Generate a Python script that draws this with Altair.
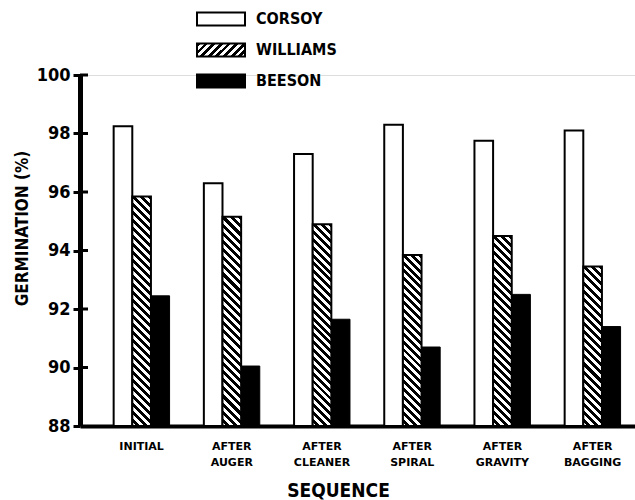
import altair as alt
import pandas as pd

# ---- data ----
sequence = ["INITIAL", "AFTER AUGER", "AFTER CLEANER", "AFTER SPIRAL",
            "AFTER GRAVITY", "AFTER BAGGING"]
series = ["CORSOY", "WILLIAMS", "BEESON"]
corsoy = [98.25, 96.3, 97.3, 98.3, 97.75, 98.1]
williams = [95.85, 95.15, 94.9, 93.85, 94.5, 93.45]
beeson = [92.45, 90.05, 91.65, 90.7, 92.5, 91.4]
y_ticks = [88, 90, 92, 94, 96, 98, 100]

rows = []
for s, vals in zip(series, [corsoy, williams, beeson]):
    for q, v in zip(sequence, vals):
        rows.append({"sequence": q, "series": s, "value": v})
df = pd.DataFrame(rows)
legend_df = pd.DataFrame({"series": series})
ticks_df = pd.DataFrame({"t": y_ticks[1:]})

# ---- layout ----
W, H = 555, 351
Y0, Y1 = 88, 100
PAD_IN, PAD_OUT, ALIGN = 0.38, 0.2665, 0.70
step = W / (len(sequence) - PAD_IN + 2 * PAD_OUT)
bar_w = step * (1 - PAD_IN) / 3
px_unit = H / (Y1 - Y0)

NARROW = "Liberation Sans Narrow, DejaVu Sans Condensed, Roboto Condensed, Liberation Sans, sans-serif"
WIDE = "DejaVu Sans, Verdana, sans-serif"


def stripes(n, frac=0.5):
    st = []
    for k in range(n):
        a = k / n
        b = (k + frac) / n
        c = (k + 1) / n
        st += [{"offset": a, "color": "black"}, {"offset": b, "color": "black"},
               {"offset": b, "color": "white"}, {"offset": c, "color": "white"}]
    return st


def hatch_back(w, h, period=8.0):
    # "\" diagonal stripes inside a w x h box (objectBoundingBox units)
    r = w / h
    L = (1 + r) / (1 + r * r)
    n = max(1, round((w + h) / period))
    return {"gradient": "linear", "x1": 1, "y1": 0, "x2": 1 - r * L, "y2": L,
            "stops": stripes(n)}


def hatch_fwd(w, h, period=8.0):
    # "/" diagonal stripes
    s = h / w
    L = (1 + s) / (1 + s * s)
    n = max(1, round((w + h) / period))
    return {"gradient": "linear", "x1": 0, "y1": 0, "x2": L, "y2": s * L,
            "stops": stripes(n)}


x_enc = alt.X(
    "sequence:N", sort=sequence,
    scale=alt.Scale(domain=sequence, paddingInner=PAD_IN, paddingOuter=PAD_OUT, align=ALIGN),
    axis=alt.Axis(
        title="SEQUENCE", labelAngle=0, labelExpr="split(datum.label, ' ')",
        labelFont=WIDE, labelFontWeight="bold", labelFontSize=11, labelColor="black",
        labelLineHeight=16, labelPadding=14, ticks=False, tickSize=0,
        domainColor="black", domainWidth=4,
        titleFont=NARROW, titleFontSize=19, titleFontWeight="bold", titleColor="black",
        titleX=258, titleY=70, titleBaseline="alphabetic", titleAlign="center",
        grid=False,
    ),
)
xoff_enc = alt.XOffset("series:N", scale=alt.Scale(domain=series, paddingInner=0, paddingOuter=0))
y_scale = alt.Scale(domain=[Y0, Y1], nice=False, zero=False)
y_axis = alt.Axis(
    title="GERMINATION (%)", values=y_ticks, format="d",
    labelFont=NARROW, labelFontWeight="bold", labelFontSize=18, labelColor="black",
    labelPadding=3, tickSize=7, tickWidth=3, tickColor="black",
    domainColor="black", domainWidth=5, grid=False,
    titleFont=NARROW, titleFontSize=17, titleFontWeight="bold", titleColor="black",
    titleX=-58, titleY=153, titleAngle=270, titleAlign="center", titleBaseline="middle",
)
y_enc = alt.Y("value:Q", scale=y_scale, axis=y_axis)
y2_enc = alt.Y2(datum=Y0)

base = alt.Chart(df)

corsoy_layer = base.transform_filter(alt.datum.series == "CORSOY").mark_bar(
    fill="white", stroke="black", strokeWidth=2
).encode(x=x_enc, xOffset=xoff_enc, y=y_enc, y2=y2_enc)

beeson_layer = base.transform_filter(alt.datum.series == "BEESON").mark_bar(
    fill="black", stroke="black", strokeWidth=1
).encode(x=x_enc, xOffset=xoff_enc, y=y_enc, y2=y2_enc)

williams_layers = []
for q, v in zip(sequence, williams):
    h = (v - Y0) * px_unit
    williams_layers.append(
        base.transform_filter((alt.datum.series == "WILLIAMS") & (alt.datum.sequence == q))
        .mark_bar(fill=hatch_back(bar_w, h), stroke="black", strokeWidth=2)
        .encode(x=x_enc, xOffset=xoff_enc, y=y_enc, y2=y2_enc)
    )

inner_ticks = alt.Chart(ticks_df).mark_rule(color="black", strokeWidth=3).encode(
    y=alt.Y("t:Q", scale=y_scale, axis=y_axis), x=alt.value(0), x2=alt.value(8)
)

main = alt.layer(corsoy_layer, beeson_layer, *williams_layers, inner_ticks)

# ---- legend ----
BOX_PATH = "M-1,-0.27H1V0.27H-1Z"
ly = alt.Y("series:N", scale=alt.Scale(type="point", domain=series, range=[-56, 6], padding=0), axis=None)
lbase = alt.Chart(legend_df)
box_fills = {"CORSOY": "white", "WILLIAMS": hatch_fwd(48, 13, 8), "BEESON": "black"}
legend_boxes = [
    lbase.transform_filter(alt.datum.series == s).mark_point(
        shape=BOX_PATH, size=48 * 48, filled=True, fill=box_fills[s], opacity=1,
        stroke="black", strokeWidth=2
    ).encode(y=ly, x=alt.value(141))
    for s in series
]
legend_text = lbase.mark_text(
    align="left", baseline="middle", font=NARROW, fontSize=16, fontWeight="bold", color="black"
).encode(y=ly, x=alt.value(176), text="series:N")
legend = alt.layer(*legend_boxes, legend_text)

chart = alt.layer(main, legend).resolve_scale(y="independent").properties(
    width=W, height=H,
    autosize=alt.AutoSizeParams(type="none"),
    padding={"left": 80, "top": 75, "right": 0, "bottom": 74},
).configure_view(stroke=None).configure(background="white")

chart.save("out.html", embed_options={"renderer": "svg", "actions": False})
